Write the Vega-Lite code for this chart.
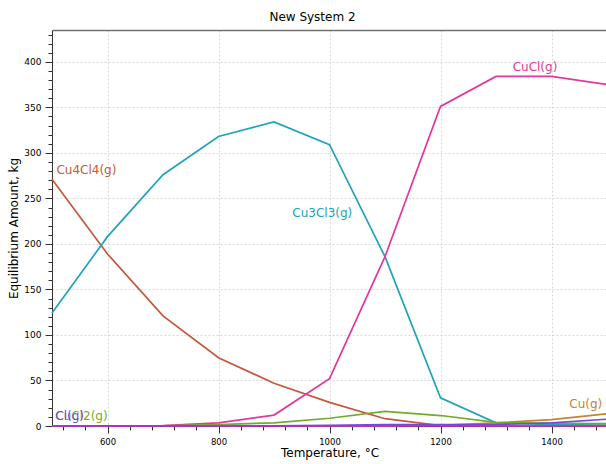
{
  "$schema": "https://vega.github.io/schema/vega-lite/v6.json",
  "autosize": {"type": "none"},
  "width": 555,
  "height": 396,
  "padding": {"left": 52, "top": 30, "right": 0, "bottom": 38},
  "background": "white",
  "config": {
    "font": "DejaVu Sans",
    "view": {"stroke": null}
  },
  "title": {
    "text": "New System 2",
    "font": "DejaVu Sans",
    "fontSize": 12,
    "fontWeight": "normal",
    "color": "#000000",
    "dx": -17,
    "offset": 6
  },
  "datasets": {
    "series": [
      {"T": 500, "species": "Cu4Cl4(g)", "amount": 271},
      {"T": 600, "species": "Cu4Cl4(g)", "amount": 189},
      {"T": 700, "species": "Cu4Cl4(g)", "amount": 121},
      {"T": 800, "species": "Cu4Cl4(g)", "amount": 75},
      {"T": 900, "species": "Cu4Cl4(g)", "amount": 47},
      {"T": 1000, "species": "Cu4Cl4(g)", "amount": 26},
      {"T": 1100, "species": "Cu4Cl4(g)", "amount": 8},
      {"T": 1200, "species": "Cu4Cl4(g)", "amount": 0.5},
      {"T": 1300, "species": "Cu4Cl4(g)", "amount": 0},
      {"T": 1400, "species": "Cu4Cl4(g)", "amount": 0},
      {"T": 1500, "species": "Cu4Cl4(g)", "amount": 0},
      {"T": 500, "species": "Cu3Cl3(g)", "amount": 124},
      {"T": 600, "species": "Cu3Cl3(g)", "amount": 208},
      {"T": 700, "species": "Cu3Cl3(g)", "amount": 276},
      {"T": 800, "species": "Cu3Cl3(g)", "amount": 318},
      {"T": 900, "species": "Cu3Cl3(g)", "amount": 334},
      {"T": 1000, "species": "Cu3Cl3(g)", "amount": 309},
      {"T": 1100, "species": "Cu3Cl3(g)", "amount": 186},
      {"T": 1200, "species": "Cu3Cl3(g)", "amount": 31},
      {"T": 1300, "species": "Cu3Cl3(g)", "amount": 3.5},
      {"T": 1400, "species": "Cu3Cl3(g)", "amount": 1.5},
      {"T": 1500, "species": "Cu3Cl3(g)", "amount": 1},
      {"T": 500, "species": "CuCl(g)", "amount": 0},
      {"T": 600, "species": "CuCl(g)", "amount": 0},
      {"T": 700, "species": "CuCl(g)", "amount": 0.5},
      {"T": 800, "species": "CuCl(g)", "amount": 3.5},
      {"T": 900, "species": "CuCl(g)", "amount": 12},
      {"T": 1000, "species": "CuCl(g)", "amount": 52},
      {"T": 1100, "species": "CuCl(g)", "amount": 186},
      {"T": 1200, "species": "CuCl(g)", "amount": 351},
      {"T": 1300, "species": "CuCl(g)", "amount": 384},
      {"T": 1400, "species": "CuCl(g)", "amount": 384},
      {"T": 1500, "species": "CuCl(g)", "amount": 375},
      {"T": 500, "species": "Cu(g)", "amount": 0},
      {"T": 600, "species": "Cu(g)", "amount": 0},
      {"T": 700, "species": "Cu(g)", "amount": 0},
      {"T": 800, "species": "Cu(g)", "amount": 0},
      {"T": 900, "species": "Cu(g)", "amount": 0},
      {"T": 1000, "species": "Cu(g)", "amount": 0},
      {"T": 1100, "species": "Cu(g)", "amount": 0.2},
      {"T": 1200, "species": "Cu(g)", "amount": 0.8},
      {"T": 1300, "species": "Cu(g)", "amount": 3.5},
      {"T": 1400, "species": "Cu(g)", "amount": 7},
      {"T": 1500, "species": "Cu(g)", "amount": 13.5},
      {"T": 500, "species": "CuCl2(g)", "amount": 0},
      {"T": 600, "species": "CuCl2(g)", "amount": 0},
      {"T": 700, "species": "CuCl2(g)", "amount": 0.3},
      {"T": 800, "species": "CuCl2(g)", "amount": 1.5},
      {"T": 900, "species": "CuCl2(g)", "amount": 3.5},
      {"T": 1000, "species": "CuCl2(g)", "amount": 8.5},
      {"T": 1100, "species": "CuCl2(g)", "amount": 16},
      {"T": 1200, "species": "CuCl2(g)", "amount": 11.5},
      {"T": 1300, "species": "CuCl2(g)", "amount": 4},
      {"T": 1400, "species": "CuCl2(g)", "amount": 3},
      {"T": 1500, "species": "CuCl2(g)", "amount": 2.5},
      {"T": 500, "species": "Cl(g)", "amount": 0},
      {"T": 600, "species": "Cl(g)", "amount": 0},
      {"T": 700, "species": "Cl(g)", "amount": 0},
      {"T": 800, "species": "Cl(g)", "amount": 0},
      {"T": 900, "species": "Cl(g)", "amount": 0.2},
      {"T": 1000, "species": "Cl(g)", "amount": 0.8},
      {"T": 1100, "species": "Cl(g)", "amount": 1.5},
      {"T": 1200, "species": "Cl(g)", "amount": 1.5},
      {"T": 1300, "species": "Cl(g)", "amount": 1.5},
      {"T": 1400, "species": "Cl(g)", "amount": 3.5},
      {"T": 1500, "species": "Cl(g)", "amount": 7.5},
      {"T": 500, "species": "Cl2(g)", "amount": 0},
      {"T": 600, "species": "Cl2(g)", "amount": 0},
      {"T": 700, "species": "Cl2(g)", "amount": 0},
      {"T": 800, "species": "Cl2(g)", "amount": 0},
      {"T": 900, "species": "Cl2(g)", "amount": 0},
      {"T": 1000, "species": "Cl2(g)", "amount": 0},
      {"T": 1100, "species": "Cl2(g)", "amount": 0},
      {"T": 1200, "species": "Cl2(g)", "amount": 0},
      {"T": 1300, "species": "Cl2(g)", "amount": 0},
      {"T": 1400, "species": "Cl2(g)", "amount": 0},
      {"T": 1500, "species": "Cl2(g)", "amount": 0}
    ],
    "labels": [
      {"T": 508, "amount": 281, "species": "Cu4Cl4(g)"},
      {"T": 933, "amount": 234, "species": "Cu3Cl3(g)"},
      {"T": 1330, "amount": 394.5, "species": "CuCl(g)"},
      {"T": 1432, "amount": 24, "species": "Cu(g)"},
      {"T": 506, "amount": 11, "species": "CuCl2(g)"},
      {"T": 506, "amount": 11, "species": "Cl(g)"}
    ]
  },
  "encoding": {
    "y": {
      "field": "amount",
      "type": "quantitative",
      "scale": {"domain": [0, 435], "nice": false},
      "axis": {
        "title": "Equilibrium Amount, kg",
        "values": [0, 10, 20, 30, 40, 50, 60, 70, 80, 90, 100, 110, 120, 130, 140, 150, 160, 170, 180, 190, 200, 210, 220, 230, 240, 250, 260, 270, 280, 290, 300, 310, 320, 330, 340, 350, 360, 370, 380, 390, 400, 410, 420, 430],
        "format": "d",
        "labelExpr": "datum.value % 50 === 0 ? datum.label : ''",
        "labelOverlap": false,
        "labelFontSize": 9,
        "labelColor": "#000000",
        "labelPadding": 4,
        "tickSize": {"condition": {"test": "datum.value % 50 === 0", "value": 7}, "value": 4},
        "tickColor": "#333333",
        "domainColor": "#333333",
        "grid": true,
        "gridOpacity": {"condition": {"test": "datum.value % 50 === 0", "value": 1}, "value": 0},
        "gridColor": "#d8d8d8",
        "gridDash": [2, 2],
        "titleFontSize": 12,
        "titleFontWeight": "normal",
        "titleColor": "#000000",
        "titlePadding": 3
      }
    },
    "color": {
      "field": "species",
      "type": "nominal",
      "legend": null,
      "scale": {
        "domain": ["Cu4Cl4(g)", "Cu3Cl3(g)", "CuCl(g)", "Cu(g)", "CuCl2(g)", "Cl(g)", "Cl2(g)"],
        "range": ["#c4583c", "#22a2ba", "#e0389c", "#c8812e", "#72aa2c", "#7448dc", "#b52cc0"]
      }
    }
  },
  "resolve": {"axis": {"x": "independent"}},
  "layer": [
    {
      "data": {"name": "series"},
      "mark": {"type": "line", "strokeWidth": 1.7, "clip": false},
      "encoding": {
        "x": {
          "field": "T",
          "type": "quantitative",
          "scale": {"domain": [500, 1500], "nice": false, "zero": false},
          "axis": {
            "orient": "bottom",
            "title": "Temperature, °C",
            "values": [520, 560, 600, 640, 680, 720, 760, 800, 840, 880, 920, 960, 1000, 1040, 1080, 1120, 1160, 1200, 1240, 1280, 1320, 1360, 1400, 1440, 1480],
            "format": "d",
            "labelExpr": "datum.value % 200 === 0 ? datum.label : ''",
            "labelOverlap": false,
            "labelFontSize": 8.5,
            "labelColor": "#000000",
            "labelPadding": 4,
            "tickSize": {"condition": {"test": "datum.value % 200 === 0", "value": 7}, "value": 4},
            "tickColor": "#333333",
            "domainColor": "#333333",
            "grid": true,
            "gridOpacity": {"condition": {"test": "datum.value % 200 === 0", "value": 1}, "value": 0},
            "gridColor": "#d8d8d8",
            "gridDash": [2, 2],
            "titleFontSize": 12,
            "titleFontWeight": "normal",
            "titleColor": "#000000",
            "titlePadding": 2
          }
        }
      }
    },
    {
      "data": {"name": "labels"},
      "mark": {"type": "text", "align": "left", "baseline": "middle", "fontSize": 12, "font": "DejaVu Sans"},
      "encoding": {
        "x": {
          "field": "T",
          "type": "quantitative",
          "scale": {"domain": [500, 1500], "nice": false, "zero": false},
          "axis": {
            "orient": "top",
            "title": null,
            "labels": false,
            "ticks": false,
            "grid": false,
            "domain": true,
            "domainColor": "#707070",
            "domainWidth": 1.5
          }
        },
        "text": {"field": "species"}
      }
    }
  ]
}
